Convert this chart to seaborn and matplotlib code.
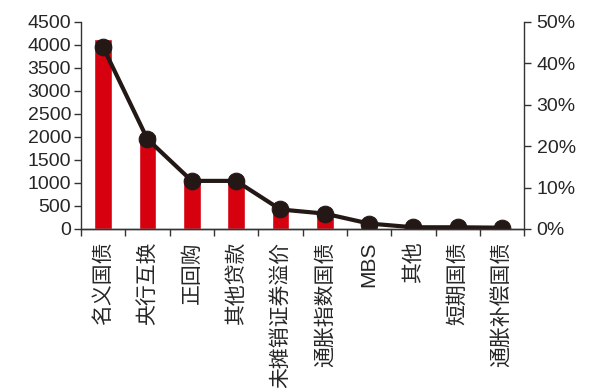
import numpy as np
import pandas as pd
import matplotlib
matplotlib.use("Agg")
import matplotlib.pyplot as plt
import seaborn as sns
from matplotlib.ticker import FuncFormatter

categories = ["名义国债", "央行互换", "正回购", "其他贷款", "未摊销证券溢价",
              "通胀指数国债", "MBS", "其他", "短期国债", "通胀补偿国债"]
amounts = [4120, 2065, 1090, 1085, 440, 345, 120, 40, 35, 25]
shares = [0.439, 0.217, 0.116, 0.116, 0.047, 0.037, 0.013, 0.004, 0.004, 0.003]
left_ticks = [0, 500, 1000, 1500, 2000, 2500, 3000, 3500, 4000, 4500]
right_ticks = [0, 0.1, 0.2, 0.3, 0.4, 0.5]

sns.set_style("white")
plt.rcParams["font.family"] = ["Liberation Sans", "Noto Sans CJK SC"]
plt.rcParams["axes.unicode_minus"] = False

fig = plt.figure(figsize=(5.95, 3.9), dpi=100)
ax = fig.add_axes([0.136, 0.413, 0.745, 0.531])
n = len(categories)
df = pd.DataFrame({"cat": categories, "amt": amounts, "pos": np.arange(n), "share": shares})

sns.barplot(data=df, x="cat", y="amt", ax=ax, color="#D7000F", width=0.4,
            saturation=1, order=categories)
ax.set_xlim(-0.5, n - 0.5)
ax.set_ylim(0, 4500)
ax.set_yticks(left_ticks)
ax.set_xlabel("")
ax.set_ylabel("")

ax2 = ax.twinx()
sns.lineplot(data=df, x="pos", y="share", ax=ax2, color="#231815", lw=3,
             marker="o", markersize=12, markeredgecolor="#231815")
ax2.set_ylim(0, 0.5)
ax2.set_yticks(right_ticks)
ax2.yaxis.set_major_formatter(FuncFormatter(lambda v, p: f"{int(round(v*100))}%"))
ax2.set_xlabel("")
ax2.set_ylabel("")
ax2.set_xlim(-0.5, n - 0.5)

# x ticks: boundaries as tick marks, labels at centers
ax.set_xticks(np.arange(-0.5, n, 1))
ax.set_xticklabels([""] * (n + 1))
ax.set_xticks(np.arange(n), minor=True)
ax.set_xticklabels(categories, minor=True, rotation=90, fontsize=15)
ax.tick_params(axis="x", which="major", length=5, width=1, color="#333333", direction="out", bottom=True)
ax.tick_params(axis="x", which="minor", length=0, pad=9)
ax.tick_params(axis="y", length=5, width=1, color="#333333", direction="out", left=True, labelsize=14, pad=2)
ax2.tick_params(axis="y", length=5, width=1, color="#333333", direction="out", right=True, labelsize=14, pad=4)

for a in (ax, ax2):
    a.spines["top"].set_visible(False)
    for s in ("left", "right", "bottom"):
        a.spines[s].set_color("#333333")
        a.spines[s].set_linewidth(1)
ax.spines["right"].set_visible(False)
ax2.spines["left"].set_visible(False)

fig.savefig("out.png", dpi=100)
